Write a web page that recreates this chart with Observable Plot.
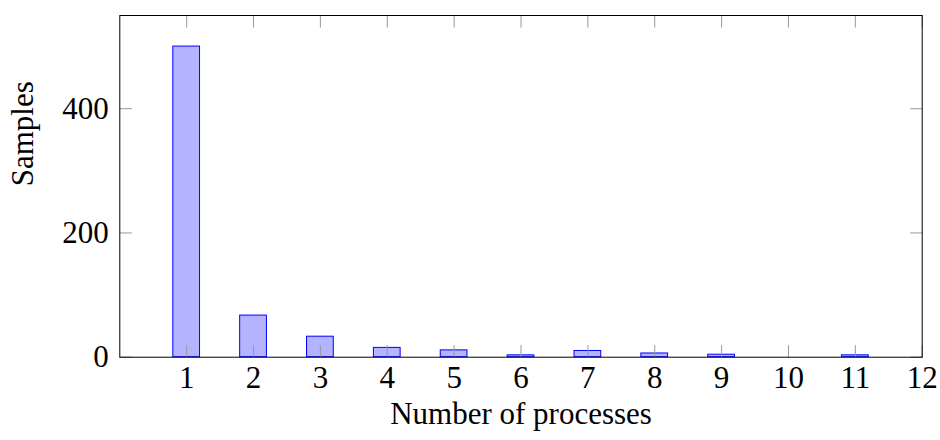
<!DOCTYPE html>
<html>
<head>
<meta charset="utf-8">
<script src="https://cdn.jsdelivr.net/npm/d3@7"></script>
<script src="https://cdn.jsdelivr.net/npm/@observablehq/plot@0.6"></script>
<style>
  html, body { margin: 0; padding: 0; background: #fff; }
  #chart svg { display: block; }
</style>
</head>
<body>
<div id="chart"></div>
<script>
// Histogram of how many processes each sample used
const processes = [1, 2, 3, 4, 5, 6, 7, 8, 9, 10, 11];
const samples = [500, 67, 33, 15, 11, 3, 10, 6, 4, 0, 3];
const xTicks = [1, 2, 3, 4, 5, 6, 7, 8, 9, 10, 11, 12];
const yTicks = [0, 200, 400];
const xLabel = "Number of processes";
const yLabel = "Samples";

const data = processes
  .map((n, i) => ({n, v: samples[i]}))
  .filter(d => d.v > 0);

const font = "'Liberation Serif', 'DejaVu Serif', serif";
const fontSize = 31;
const tickLen = 11.7;
const half = 0.2; // half bar width, in process units

// plain line used for the inward tick marks
const tickShape = {
  draw(context, l) {
    context.moveTo(0, 0);
    context.lineTo(0, -l);
  }
};
const tickStyle = {length: tickLen, anchor: "start", shape: tickShape, stroke: "#999", strokeWidth: 1};

const chart = Plot.plot({
  width: 940,
  height: 440,
  marginLeft: 119.3,
  marginRight: 18.3,
  marginTop: 15,
  marginBottom: 83.3,
  style: {background: "#fff", fontFamily: font, fontSize: `${fontSize}px`, color: "#000"},
  x: {type: "linear", domain: [0, 12]},
  y: {domain: [0, 550]},
  marks: [
    Plot.rectY(data, {
      x1: d => d.n - half,
      x2: d => d.n + half,
      y: "v",
      fill: "#b3b3ff",
      stroke: "#0000ff",
      strokeWidth: 1
    }),
    // inward ticks on all four sides
    Plot.vector(xTicks, {x: d => d, frameAnchor: "bottom", rotate: 0, ...tickStyle}),
    Plot.vector(xTicks, {x: d => d, frameAnchor: "top", rotate: 180, ...tickStyle}),
    Plot.vector(yTicks, {y: d => d, frameAnchor: "left", rotate: 90, ...tickStyle}),
    Plot.vector(yTicks, {y: d => d, frameAnchor: "right", rotate: -90, ...tickStyle}),
    Plot.axisX({ticks: xTicks, tickSize: 0, tickPadding: 9, tickFormat: d => String(d), label: null, fontSize, fontFamily: font}),
    Plot.axisY({ticks: yTicks, tickSize: 0, tickPadding: 11, tickFormat: d => String(d), label: null, fontSize, fontFamily: font}),
    Plot.text([xLabel], {text: d => d, frameAnchor: "bottom", dy: 56.4, lineAnchor: "middle", fontSize, fontFamily: font, fill: "#000"}),
    Plot.text([yLabel], {text: d => d, frameAnchor: "left", dx: -96.3, rotate: -90, lineAnchor: "middle", fontSize, fontFamily: font, fill: "#000"}),
    Plot.frame({stroke: "#000", strokeWidth: 1})
  ]
});

document.getElementById("chart").appendChild(chart);
</script>
</body>
</html>
